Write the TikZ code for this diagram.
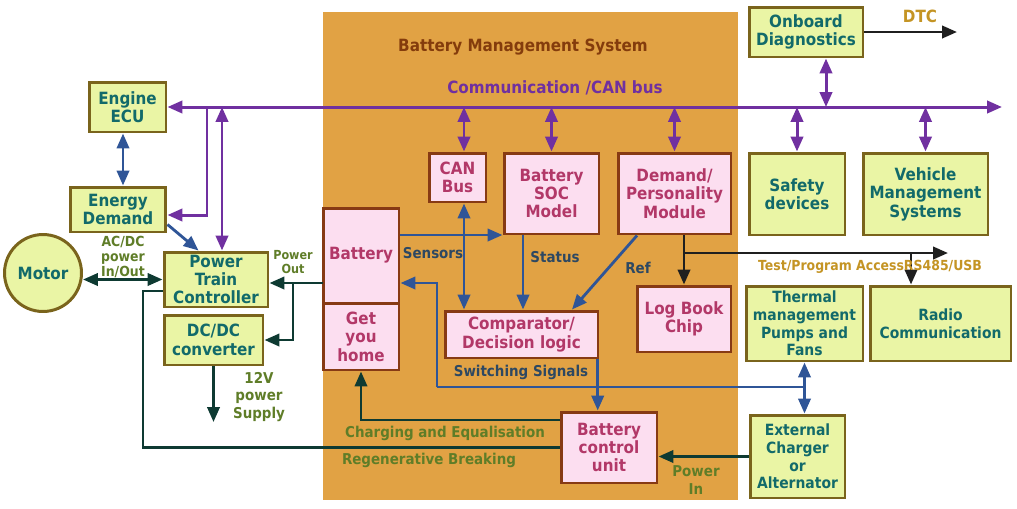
\documentclass[tikz,border=0pt]{standalone}
\usepackage{fontspec}
\setmainfont{DejaVu Sans}[FakeStretch=0.9]
\usetikzlibrary{arrows.meta,calc}

\definecolor{bmsorange}{RGB}{225,162,68}
\definecolor{greenfill}{RGB}{234,245,165}
\definecolor{greenedge}{RGB}{122,100,28}
\definecolor{tealtext}{RGB}{18,106,106}
\definecolor{pinkfill}{RGB}{252,222,240}
\definecolor{pinkedge}{RGB}{135,58,20}
\definecolor{pinktext}{RGB}{178,56,104}
\definecolor{buspurple}{RGB}{112,48,160}
\definecolor{flowblue}{RGB}{47,85,151}
\definecolor{powergreen}{RGB}{14,58,50}
\definecolor{olivetext}{RGB}{95,125,40}
\definecolor{slatetext}{RGB}{45,72,98}
\definecolor{goldtext}{RGB}{196,148,36}
\definecolor{titlebrown}{RGB}{132,60,12}

\tikzset{
  unit/.style={
    draw=greenedge,
    fill=greenfill,
    text=tealtext,
    line width=1.7pt,
    align=center,
    inner sep=0pt,
    font=\bfseries\fontsize{9.6}{10.5}\selectfont
  },
  smallunit/.style={
    unit,
    font=\bfseries\fontsize{8.8}{10}\selectfont
  },
  bmsunit/.style={
    unit,
    draw=pinkedge,
    fill=pinkfill,
    text=pinktext
  },
  busline/.style={draw=buspurple, line width=1.7pt},
  flow/.style={draw=flowblue, line width=1.6pt},
  power/.style={draw=powergreen, line width=1.6pt},
  ctrl/.style={draw=black!88, line width=1.6pt},
  tag/.style={
    inner sep=0pt,
    align=center,
    font=\bfseries\fontsize{8.5}{9.8}\selectfont
  },
  bigtag/.style={tag, font=\bfseries\fontsize{9.6}{10.5}\selectfont},
  smalltag/.style={tag, font=\bfseries\fontsize{7.9}{8.8}\selectfont},
  tinytag/.style={tag, font=\bfseries\fontsize{7.1}{7.6}\selectfont},
  >={Triangle[length=8.5pt,width=7pt]}
}

\begin{document}
\begin{tikzpicture}[x=0.02cm,y=-0.02cm]
    \useasboundingbox (0,0) rectangle (1017,508);
    % battery management system area
    \fill[bmsorange] (323,12) rectangle (738,500);
    \node[bigtag, text=titlebrown] (title) at (523,47) {Battery Management System};
    \node[bigtag, text=buspurple] (canlabel) at (555,88) {Communication /CAN bus};

    % units outside the BMS
    \node[unit, minimum width=1.54cm, minimum height=1cm] (ecu) at (127.5,107) {Engine\\ECU};
    \node[unit, minimum width=1.92cm, minimum height=0.9cm] (edem) at (118,209.5) {Energy\\Demand};
    \node[unit, circle, minimum size=1.54cm] (motor) at (43,273) {Motor};
    \node[unit, minimum width=2.08cm, minimum height=1.1cm] (ptc) at (216,279.5) {Power\\Train\\Controller};
    \node[unit, minimum width=1.98cm, minimum height=1cm] (dcdc) at (213.5,340) {DC/DC\\converter};
    \node[unit, minimum width=2.28cm, minimum height=1cm] (obd) at (806,32) {Onboard\\Diagnostics};
    \node[unit, minimum width=1.92cm, minimum height=1.64cm] (safe) at (797,194) {Safety\\devices};
    \node[unit, minimum width=2.5cm, minimum height=1.64cm] (vms) at (925.5,194) {Vehicle\\Management\\Systems};
    \node[smallunit, minimum width=2.34cm, minimum height=1.5cm] (thm) at (804.5,323.5) {Thermal\\management\\Pumps and\\Fans};
    \node[smallunit, minimum width=2.82cm, minimum height=1.5cm] (radio) at (940.5,323.5) {Radio\\Communication};
    \node[smallunit, minimum width=1.9cm, minimum height=1.66cm] (ext) at (797.5,456.5) {External\\Charger\\or\\Alternator};

    % units inside the BMS
    \node[bmsunit, minimum width=1.52cm, minimum height=1.9cm] (bat) at (361,255.5) {Battery};
    \node[bmsunit, minimum width=1.52cm, minimum height=1.34cm] (gyh) at (361,336.5) {Get\\you\\home};
    \node[bmsunit, minimum width=1.14cm, minimum height=0.98cm] (canb) at (457.5,177.5) {CAN\\Bus};
    \node[bmsunit, minimum width=1.9cm, minimum height=1.62cm] (soc) at (551.5,193.5) {Battery\\SOC\\Model};
    \node[bmsunit, minimum width=2.26cm, minimum height=1.62cm] (dem) at (674.5,193.5) {Demand/\\Personality\\Module};
    \node[bmsunit, minimum width=1.88cm, minimum height=1.32cm] (log) at (684,319) {Log Book\\Chip};
    \node[bmsunit, minimum width=3.06cm, minimum height=0.94cm] (cmp) at (521.5,334.5) {Comparator/\\Decision logic};
    \node[bmsunit, minimum width=1.92cm, minimum height=1.42cm] (bcu) at (609,447.5) {Battery\\control\\unit};

    % CAN bus
    \coordinate (busR) at (1002,107);
    \coordinate (tapA) at (207,107);
    \coordinate (tapB) at (222,107);
    \draw[busline,<->] (ecu.east) -- (busR);
    \draw[busline,->] (tapA) |- ([yshift=-0.11cm]edem.east);
    \draw[busline,<->] (tapB) -- (tapB |- ptc.north);
    \foreach \n/\dx in {canb/0.13,soc/0,dem/0,safe/0,vms/0}{
        \draw[busline,<->] ([xshift=\dx cm]\n.north |- busR) -- ([xshift=\dx cm]\n.north);
    }
    \draw[busline,<->] ([xshift=0.4cm]obd.south) -- ([xshift=0.4cm]obd.south |- busR);

    % power lines
    \coordinate (pout) at (323,283);
    \coordinate (pbr) at (293,283);
    \coordinate (v12) at (213.5,422);
    \coordinate (regen) at (143,447.5);
    \draw[power,<->] (ptc.west -| motor.east) -- (ptc.west);
    \draw[power,->] (pout) -- (pout -| ptc.east);
    \draw[power,->] (pbr) |- (dcdc.east);
    \draw[power,->] (dcdc.south) -- (v12);
    \draw[power] ([yshift=-0.23cm]ptc.west) -| (regen) -- (bcu.west);
    \draw[power,->] ([yshift=0.55cm]bcu.west) -| (gyh.south);
    \draw[power,->] (ext.west) -- (ext.west -| bcu.east);

    % signal lines
    \coordinate (swA) at (437,387);
    \draw[flow,<->] ([xshift=-0.09cm]ecu.south) -- ([xshift=-0.09cm]ecu.south |- edem.north);
    \draw[flow,->] ([yshift=0.18cm]edem.south east) -- ([xshift=0.72cm]ptc.north west);
    \draw[flow,->] ([yshift=0.41cm]bat.east) -- ([yshift=0.41cm]bat.east -| soc.west);
    \draw[flow,<->] ([xshift=0.13cm]canb.south) -- ([xshift=0.13cm]canb.south |- cmp.north);
    \draw[flow,->] ([xshift=-0.57cm]soc.south) -- ([xshift=-0.57cm]soc.south |- cmp.north);
    \draw[flow,->] ([xshift=-0.75cm]dem.south) -- ([xshift=1.01cm]cmp.north);
    \draw[flow,->] (swA) |- ([yshift=-0.55cm]bat.east);
    \draw[flow] (swA) -- (swA -| thm.south);
    \draw[flow,->] ([xshift=-1pt]cmp.south east) -- ([xshift=-1pt]cmp.south east |- bcu.north);
    \draw[flow,<->] (thm.south) -- (thm.south |- ext.north);

    % control lines
    \coordinate (tp) at (948,253);
    \coordinate (dtc) at (957,32);
    \draw[ctrl,->] (obd.east) -- (dtc);
    \draw[ctrl,->] (log.north |- dem.south) -- (log.north);
    \draw[ctrl,->] (log.north |- tp) -- (tp);
    \draw[ctrl,->] ([xshift=-0.59cm]radio.north |- tp) -- ([xshift=-0.59cm]radio.north);

    % labels
    \node[smalltag, text=olivetext] (acdc) at (123,257) {AC/DC\\power\\In/Out};
    \node[tinytag, text=olivetext] (poutlabel) at (293,262) {Power\\Out};
    \node[tag, text=olivetext] (supply) at (259,397) {12V\\power\\Supply};
    \node[tag, text=slatetext] (sensors) at (433,253) {Sensors};
    \node[tag, text=slatetext] (status) at (555,257) {Status};
    \node[tag, text=slatetext] (ref) at (638,268) {Ref};
    \node[tag, text=slatetext] (switching) at (521,372) {Switching Signals};
    \node[tag, text=olivetext] (charging) at (445,433) {Charging and Equalisation};
    \node[tag, text=olivetext] (regenlabel) at (429,460) {Regenerative Breaking};
    \node[tag, text=olivetext] (pin) at (696,480) {Power\\In};
    \node[smalltag, text=goldtext] (testlabel) at (870,267) {Test/Program AccessRS485/USB};
    \node[bigtag, text=goldtext] (dtclabel) at (920,16) {DTC};
\end{tikzpicture}
\end{document}
